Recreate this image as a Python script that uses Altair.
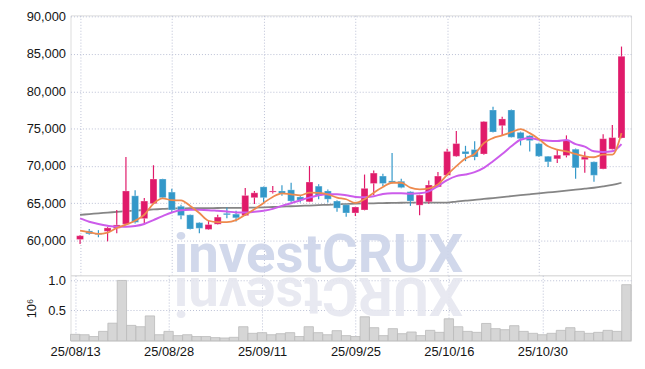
import altair as alt
import pandas as pd

dates = ["25/08/13","25/08/14","25/08/18","25/08/19","25/08/20","25/08/21","25/08/22","25/08/25","25/08/26","25/08/27",
         "25/08/28","25/08/29","25/09/01","25/09/02","25/09/03","25/09/04","25/09/05","25/09/08","25/09/09","25/09/10",
         "25/09/11","25/09/12","25/09/15","25/09/16","25/09/17","25/09/18","25/09/19","25/09/22","25/09/23","25/09/24",
         "25/09/25","25/09/26","25/09/29","25/09/30","25/10/01","25/10/02","25/10/10","25/10/13","25/10/14","25/10/15",
         "25/10/16","25/10/17","25/10/20","25/10/21","25/10/22","25/10/23","25/10/24","25/10/27","25/10/28","25/10/29",
         "25/10/30","25/10/31","25/11/03","25/11/04","25/11/05","25/11/06","25/11/07","25/11/10","25/11/11","25/11/12"]

opens = [60150, 61300, 60950, 61250, 61650, 62200, 66000, 62950, 64950, 68250,
         66500, 64600, 63450, 62400, 61500, 62200, 63650, 63550, 63350, 65750,
         67200, 66500, 66650, 66800, 65850, 65200, 67300, 66650, 65300, 64800,
         63700, 64100, 67650, 68650, 68000, 67950, 66550, 64750, 65200, 67200,
         68750, 71300, 71950, 72200, 71600, 77500, 75400, 77500, 74500, 74050,
         73000, 71300, 70950, 71400, 72250, 70850, 70550, 69600, 72250, 73750]
closes = [60650, 60900, 60800, 61700, 62100, 66650, 62450, 65300, 68250, 65750,
          64100, 63350, 61550, 61650, 62150, 63150, 63450, 63050, 66050, 66400,
          65750, 66650, 66300, 65300, 65400, 67850, 66050, 65550, 64350, 63700,
          64500, 67000, 69050, 67650, 67750, 67100, 65300, 66100, 67450, 68650,
          71950, 73000, 71600, 71200, 75950, 74550, 76300, 73850, 73650, 73400,
          71300, 70550, 71450, 73450, 69750, 71200, 68750, 73650, 73800, 84700]
highs = [60750, 61550, 61400, 61850, 64100, 71200, 66750, 65700, 70100, 68300,
         66950, 64800, 63500, 62450, 62650, 63450, 64450, 64000, 67050, 66650,
         67250, 67300, 67400, 67750, 66000, 70000, 67550, 66850, 65400, 64800,
         64550, 68850, 69400, 68950, 71750, 68300, 66600, 66150, 68050, 69200,
         72300, 74700, 72700, 73300, 76000, 77950, 76600, 77550, 74600, 74100,
         73100, 71350, 72200, 74100, 72350, 71950, 70600, 74250, 75500, 86000]
lows = [59550, 60800, 60450, 59900, 61000, 62100, 62300, 62300, 64900, 65700,
        63750, 62850, 61500, 61000, 61450, 62150, 63000, 62550, 63300, 64900,
        65100, 66300, 66000, 65100, 65100, 65150, 65550, 65100, 63850, 63200,
        63300, 64050, 66100, 67300, 67650, 67000, 64650, 63400, 64950, 67150,
        68700, 71250, 70650, 70750, 71500, 74500, 74050, 73800, 72750, 71950,
        71200, 69850, 70400, 71150, 68300, 69100, 67900, 69550, 72200, 73700]
ma_short = [61330, 61110, 60890, 61060, 61690, 62130, 62660, 63460, 64960, 65670,
            65410, 65380, 64650, 63700, 62660, 62480, 62480, 62750, 63460, 64210,
            65050, 65850, 66340, 66200, 66070, 66420, 66380, 66200, 65760, 65540,
            65050, 65540, 66420, 67180, 67750, 67750, 67090, 66870, 67000, 67530,
            68800, 69970, 70990, 71610, 73070, 73740, 74090, 74530, 74930, 74400,
            73600, 72630, 72190, 71960, 71610, 71300, 71170, 71520, 71520, 74400]
ma_mid = [62970, 62530, 62220, 61990, 61860, 61860, 61950, 62220, 62750, 63280,
          63770, 64080, 64120, 64120, 64080, 63990, 63900, 63780, 63750, 63850,
          64000, 64250, 64650, 65010, 65410, 65760, 66070, 66200, 66200, 66070,
          65850, 65800, 65950, 66250, 66350, 66350, 66290, 66340, 66600, 67300,
          68100, 68640, 68860, 69170, 69740, 70630, 71600, 72630, 73520, 73740,
          73520, 73390, 73340, 73470, 72930, 72590, 71960, 71870, 71960, 72930]
ma_long = [63450, 63550, 63650, 63750, 63850, 63950, 64030, 64100, 64170, 64240,
           64300, 64320, 64340, 64350, 64360, 64370, 64380, 64390, 64400, 64420,
           64450, 64500, 64550, 64600, 64650, 64700, 64750, 64800, 64850, 64900,
           64950, 64980, 65000, 65030, 65050, 65070, 65080, 65090, 65100, 65100,
           65100, 65230, 65350, 65450, 65580, 65700, 65830, 65950, 66080, 66200,
           66320, 66450, 66570, 66700, 66820, 66950, 67080, 67250, 67450, 67750]
volumes = [0.106, 0.10, 0.07, 0.155, 0.29, 0.995, 0.254, 0.232, 0.41, 0.10,
           0.155, 0.085, 0.10, 0.07, 0.07, 0.052, 0.046, 0.057, 0.232, 0.123,
           0.134, 0.10, 0.117, 0.134, 0.07, 0.232, 0.134, 0.10, 0.167, 0.085,
           0.07, 0.396, 0.216, 0.085, 0.20, 0.117, 0.145, 0.085, 0.172, 0.139,
           0.363, 0.232, 0.155, 0.139, 0.286, 0.20, 0.183, 0.249, 0.155, 0.123,
           0.10, 0.123, 0.172, 0.216, 0.155, 0.123, 0.139, 0.172, 0.155, 0.925]
price_ticks = [60000, 65000, 70000, 75000, 80000, 85000, 90000]
volume_ticks = [0.5, 1.0]
watermark = ["investCRUX"]

n = len(dates)
df = pd.DataFrame({
    "i": list(range(n)), "date": dates, "open": opens, "close": closes,
    "high": highs, "low": lows, "vol": volumes,
    "ma_short": ma_short, "ma_mid": ma_mid, "ma_long": ma_long,
})
df["dir"] = ["up" if c >= o else "down" for o, c in zip(opens, closes)]

UP = "#E01A6A"
DOWN = "#3398C9"
GRID = "#BABFD4"
FONT = "Liberation Sans"
LABEL = "#151515"
W = 565

tick_idx = list(range(0, n, 10))
label_arr = "[" + ",".join("'" + dates[k] + "'" for k in tick_idx) + "]"
label_expr = label_arr + "[round(datum.value/10)]"

xscale = alt.Scale(domain=[-0.5, n - 0.5], nice=False, zero=False)
x_axis_price = alt.Axis(values=tick_idx, labels=False, ticks=False, domain=False,
                        grid=True, gridDash=[1, 2], gridColor=GRID, title=None)
x_price = alt.X("i:Q", scale=xscale, axis=x_axis_price)


def yp(field):
    return alt.Y(field + ":Q",
                 scale=alt.Scale(domain=[55350, 90180], nice=False, zero=False),
                 axis=alt.Axis(values=price_ticks, format=",d", ticks=False, domain=False, grid=True,
                               gridDash=[1, 2], gridColor=GRID, labelPadding=5, title=None,
                               labelFont=FONT, labelFontSize=13, labelColor=LABEL))


color = alt.Color("dir:N", scale=alt.Scale(domain=["up", "down"], range=[UP, DOWN]), legend=None)

base = alt.Chart(df)
wm = alt.Chart(pd.DataFrame({"t": watermark})).mark_text(
    font="Roboto", fontWeight="bold", fontSize=55, color="#CDD4E9", opacity=0.9,
    align="center", baseline="alphabetic"
).encode(text="t:N", x=alt.value(250), y=alt.value(259))

wick = base.mark_rule(strokeWidth=1.2).encode(x=x_price, y=yp("low"), y2="high:Q", color=color)
body = base.mark_bar(size=7, stroke="white", strokeOpacity=0.35, strokeWidth=0.8).encode(
    x=x_price, y=yp("open"), y2="close:Q", color=color)


def ma_line(col, c, w=1.8):
    return base.mark_line(color=c, strokeWidth=w, interpolate="monotone").encode(x=x_price, y=yp(col))


price = alt.layer(wm, ma_line("ma_long", "#858585"), wick, body,
                  ma_line("ma_mid", "#CC5CEB", 2.0), ma_line("ma_short", "#EE8A4E")).properties(width=W, height=262)

x_vol = alt.X("x1:Q", scale=xscale, axis=alt.Axis(values=tick_idx, labelExpr=label_expr, ticks=False, domain=False,
                                                 grid=True, gridDash=[1, 2], gridColor=GRID, title=None,
                                                 labelFlush=False, labelOverlap=False, labelPadding=5,
                                                 labelFont=FONT, labelFontSize=13, labelColor=LABEL))
y_vol_axis = alt.Axis(values=volume_ticks, format=".1f", ticks=False, domain=False, grid=True,
                      gridDash=[1, 2], gridColor=GRID, labelPadding=5, title="10⁶",
                      titleFont=FONT, titleFontSize=13, titleFontWeight="normal", titleColor=LABEL,
                      titlePadding=9, labelFont=FONT, labelFontSize=13, labelColor=LABEL)
vbase = alt.Chart(df).transform_calculate(x1="datum.i - 0.5", x2="datum.i + 0.5", v0="0")
vbars = vbase.mark_bar(fill="#D6D6D6", stroke="#B9B9B9", strokeWidth=0.8).encode(
    x=x_vol, x2="x2:Q",
    y=alt.Y("vol:Q", scale=alt.Scale(domain=[0, 1.08], nice=False), axis=y_vol_axis),
    y2="v0:Q")
refl = alt.Chart(pd.DataFrame({"t": watermark})).transform_calculate(
    r="join(reverse(split(datum.t, '')), '')"
).mark_text(
    font="Roboto", fontWeight="bold", fontSize=55, color="#E6E7F0", opacity=0.9,
    align="center", baseline="alphabetic", angle=180
).encode(text="r:N", x=alt.value(250), y=alt.value(3))
volume = alt.layer(refl, vbars).properties(width=W, height=66)

chart = alt.vconcat(price, volume, spacing=0, bounds="flush").properties(
    padding={"left": 17, "top": 0, "right": 5, "bottom": 5}
).configure_view(stroke="#D3D3D3").configure(background="white")

chart.save("out.html", embed_options={"renderer": "svg", "actions": False})
